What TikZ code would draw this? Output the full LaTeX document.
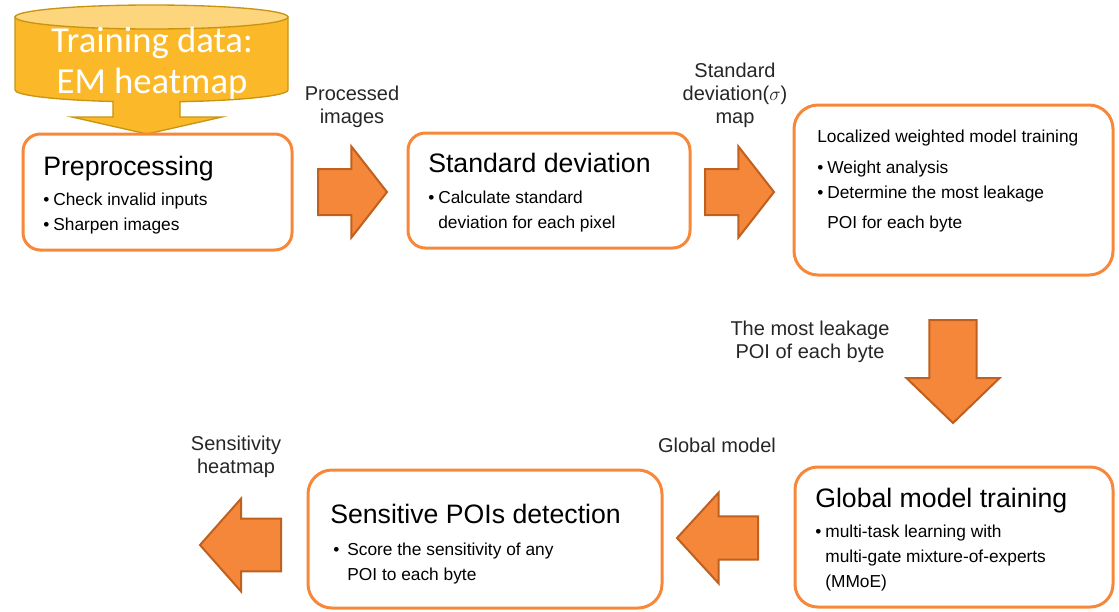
\documentclass[tikz,border=0pt]{standalone}
\usepackage{fontspec}
\setmainfont{Liberation Sans}
\newfontfamily\carlito{Carlito}
\usetikzlibrary{shapes.arrows,calc}
\definecolor{boxorange}{HTML}{F7883A}
\definecolor{arroworange}{HTML}{F5873A}
\definecolor{arrowedge}{HTML}{C0601E}
\definecolor{dbgold}{HTML}{FBB829}
\definecolor{dbtopfill}{HTML}{FDD57C}
\definecolor{dbedge}{HTML}{C89512}
\definecolor{labelgray}{HTML}{262626}
\newcommand{\stacked}[1]{\begin{tabular}[t]{@{}c@{}}#1\end{tabular}}
\newcommand{\itemlist}[2][3pt]{\begin{tabular}[t]{@{}l@{\hspace{#1}}l@{}}#2\end{tabular}}
\tikzset{
  stagebox/.style={draw=boxorange, line width=2.25pt, rounded corners=13pt,
    fill=white, inner sep=0pt, outer sep=0pt},
  titletext/.style={font=\fontsize{20}{24}\selectfont, anchor=base west, inner sep=0pt},
  itemtext/.style={font=\fontsize{13}{18.75}\selectfont, anchor=base west, inner sep=0pt},
  flowlabel/.style={font=\fontsize{15}{17.25}\selectfont, text=labelgray, anchor=base, inner sep=0pt},
  blockarr/.style={single arrow, draw=arrowedge, fill=arroworange, line width=1.5pt,
    inner xsep=0pt, outer sep=0pt, anchor=tail},
  dbbody/.style={draw=dbedge, fill=dbgold, line width=1pt},
  dbtop/.style={draw=dbedge, fill=dbtopfill, line width=1pt},
  dbtext/.style={font=\carlito\fontsize{27.5}{30.75}\selectfont, text=white, anchor=base, inner sep=0pt}
}

\begin{document}
\begin{tikzpicture}[x=0.75pt, y=-0.75pt]
  \useasboundingbox (0,0) rectangle (1119,611);

  % training data
  \draw[dbbody] (15,17) -- (15,90)
    arc[start angle=180, end angle=106.4, x radius=136.5, y radius=12]
    -- (113,117) -- (72,117) -- (147,134) -- (222,117) -- (180,117) -- (180,101.7)
    arc[start angle=77.95, end angle=0, x radius=136.5, y radius=12]
    -- (288,17) -- cycle;
  \draw[dbtop] (151.5,17) ellipse[x radius=136.5, y radius=12];
  \node[dbtext] (data) at (152,52) {\stacked{Training data:\\EM heatmap}};

  % stages
  \node[stagebox, minimum width=201.75pt, minimum height=87pt] (prep) at (157.5,192) {};
  \node[stagebox, minimum width=211.5pt, minimum height=86.25pt] (stdev) at (549,190.5) {};
  \node[stagebox, rounded corners=18pt, minimum width=239.25pt, minimum height=127.5pt] (local) at (953.5,190) {};
  \node[stagebox, rounded corners=17pt, minimum width=238.5pt, minimum height=105pt] (global) at (954,537) {};
  \node[stagebox, rounded corners=18pt, minimum width=265.5pt, minimum height=103.5pt] (sens) at (485,539) {};

  \node[titletext] (prep-title) at ([shift={(20,41)}]prep.north west) {Preprocessing};
  \node[itemtext] (prep-items) at ([shift={(20,71)}]prep.north west)
    {\itemlist{\textbullet & Check invalid inputs\\ \textbullet & Sharpen images}};

  \node[titletext] (stdev-title) at ([shift={(20,39)}]stdev.north west) {Standard deviation};
  \node[itemtext] (stdev-items) at ([shift={(20,70)}]stdev.north west)
    {\itemlist{\textbullet & Calculate standard\\ & deviation for each pixel}};

  \node[itemtext] (local-title) at ([shift={(23,37)}]local.north west) {Localized weighted model training};
  \node[itemtext] (local-items) at ([shift={(23,68)}]local.north west)
    {\itemlist{\textbullet & Weight analysis\\ \textbullet & Determine the most leakage\\[3.75pt] & POI for each byte}};

  \node[titletext] (global-title) at ([shift={(20,40)}]global.north west) {Global model training};
  \node[itemtext] (global-items) at ([shift={(20,70)}]global.north west)
    {\itemlist{\textbullet & multi-task learning with\\ & multi-gate mixture-of-experts\\ & (MMoE)}};

  \node[titletext] (sens-title) at ([shift={(22,53)}]sens.north west) {Sensitive POIs detection};
  \node[itemtext] (sens-items) at ([shift={(25,85)}]sens.north west)
    {\itemlist[6pt]{\textbullet & Score the sensitivity of any\\ & POI to each byte}};

  % block arrows
  \node[blockarr, minimum height=51.75pt, inner ysep=16.5pt,
    single arrow head extend=16.9pt, single arrow tip angle=104] (arr-prep) at (318,192) {};
  \node[blockarr, minimum height=51.75pt, inner ysep=16.5pt,
    single arrow head extend=16.9pt, single arrow tip angle=104] (arr-stdev) at (705,192) {};
  \node[blockarr, rotate=-90, minimum height=77.25pt, inner ysep=16.9pt,
    single arrow head extend=17.25pt, single arrow tip angle=92] (arr-local) at (953,320) {};
  \node[blockarr, rotate=180, minimum height=60.75pt, inner ysep=15.4pt,
    single arrow head extend=18pt, single arrow tip angle=95] (arr-global) at (758,538) {};
  \node[blockarr, rotate=180, minimum height=60.75pt, inner ysep=19.1pt,
    single arrow head extend=15pt, single arrow tip angle=97] (arr-sens) at (281,545) {};

  % labels
  \node[flowlabel] (lbl-proc) at (352,100) {\stacked{Processed\\images}};
  \node[flowlabel] (lbl-sigma) at (735,77) {\stacked{Standard\\deviation($\sigma$)\\map}};
  \node[flowlabel] (lbl-poi) at (810,335) {\stacked{The most leakage\\POI of each byte}};
  \node[flowlabel] (lbl-model) at (717,452) {Global model};
  \node[flowlabel] (lbl-heat) at (236,450) {\stacked{Sensitivity\\heatmap}};
\end{tikzpicture}
\end{document}
